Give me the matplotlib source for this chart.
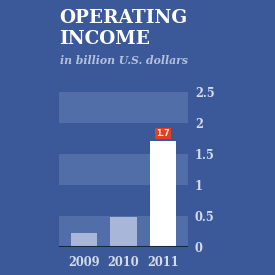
import numpy as np
import matplotlib
matplotlib.use("Agg")
import matplotlib.pyplot as plt

years = ["2009", "2010", "2011"]
income = [0.22, 0.48, 1.7]
yticks = [0, 0.5, 1, 1.5, 2, 2.5]
ytick_labels = ["0", "0.5", "1", "1.5", "2", "2.5"]

bg = "#3b5899"
band = "#526ea9"
light_bar = "#a8b6d8"
label_col = "#d4dcec"

fig = plt.figure(figsize=(2.75, 2.75), dpi=100, facecolor=bg)
ax = fig.add_axes([59/275, 28.3/275, 129/275, 155/275])
ax.set_facecolor(bg)

# alternating lighter bands
for lo in [0, 1, 2]:
    ax.axhspan(lo, lo + 0.5, color=band, lw=0, zorder=0)

x = np.arange(len(years))
colors = [light_bar, light_bar, "white"]
ax.bar(x, income, width=0.68, color=colors, zorder=2)
ax.axhline(0, color="#1c2540", lw=1.5, zorder=3)

# value tag on the last bar
ax.text(x[-1], income[-1] + 0.13, "1.7", ha="center", va="center",
        fontsize=5.5, fontweight="bold", color="white", family="DejaVu Sans",
        bbox=dict(boxstyle="square,pad=0.15", fc="#e2401f", ec="none"), zorder=4)

ax.set_xlim(-0.633, 2.633)
ax.set_ylim(0, 2.5)
ax.set_xticks(x)
ax.set_xticklabels(years)
ax.set_yticks(yticks)
ax.set_yticklabels(ytick_labels)
ax.yaxis.tick_right()
ax.tick_params(length=0, colors=label_col, labelsize=8.3)
ax.tick_params(axis="y", pad=5)
ax.tick_params(axis="x", pad=7)
for lab in ax.get_xticklabels() + ax.get_yticklabels():
    lab.set_fontweight("bold")
    lab.set_family("DejaVu Serif")
for s in ax.spines.values():
    s.set_visible(False)

fig.text(59/275, 1 - 9/275, "OPERATING\nINCOME", ha="left", va="top",
         fontsize=13.3, fontweight="bold", family="DejaVu Serif", color="white",
         linespacing=1.2)
fig.text(60/275, 1 - 60/275, "in billion U.S. dollars", ha="left", va="center",
         fontsize=7.8, fontweight="bold", style="italic", family="DejaVu Serif",
         color="#b4c0dc")

fig.savefig("out.png", dpi=100, facecolor=bg)
